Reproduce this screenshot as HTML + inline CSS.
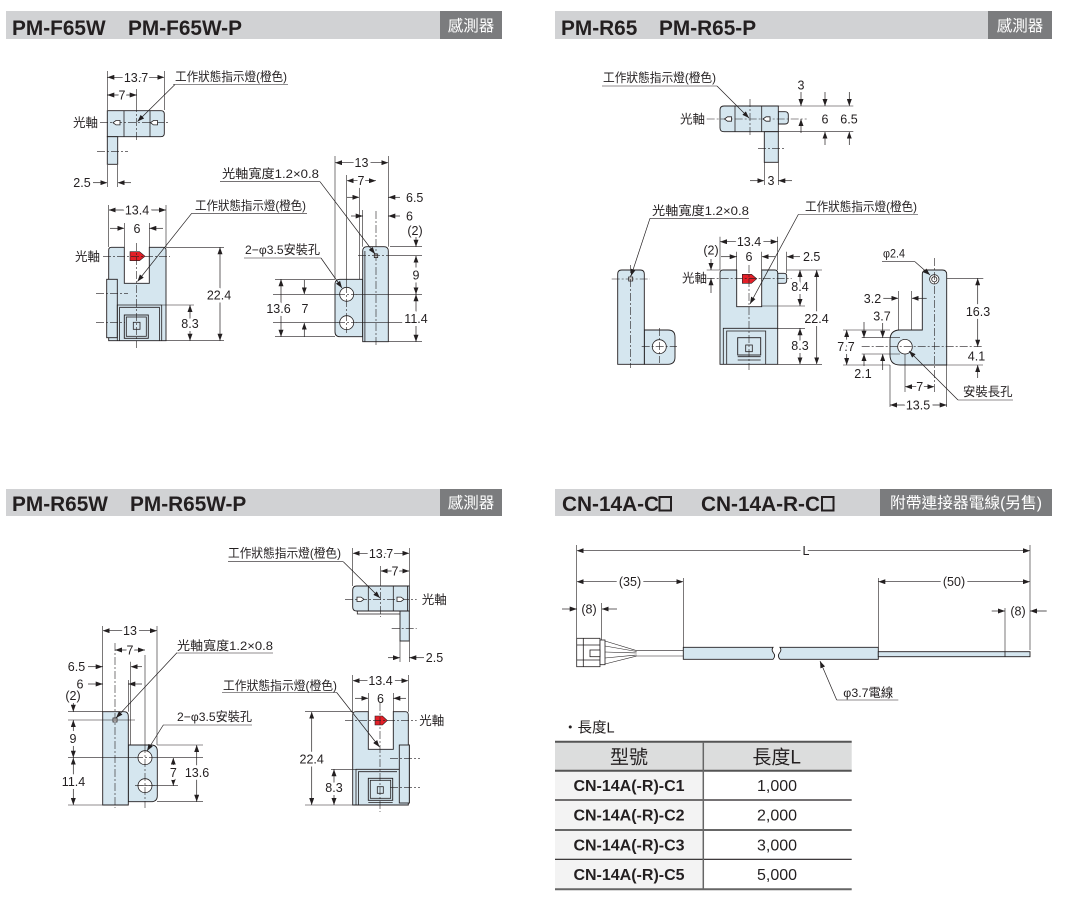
<!DOCTYPE html>
<html><head><meta charset="utf-8">
<style>
html,body{margin:0;padding:0;background:#fff;}
svg{display:block;}
text{font-family:"Liberation Sans","Noto Sans CJK TC",sans-serif;fill:#231f20;}
.n{font-size:12.5px;text-anchor:middle;}
.ns{font-size:12.5px;}
.h{stroke:#fff;stroke-width:6px;paint-order:stroke;stroke-linejoin:round;}
.j{font-size:12.3px;}
.k{font-size:12.5px;}
.T{font-size:20.8px;font-weight:bold;}
.g{font-size:15.5px;fill:#fff;text-anchor:middle;}
.o{fill:#d5e6ef;stroke:#231f20;stroke-width:0.9;}
.w{fill:#fff;stroke:#231f20;stroke-width:0.8;}
.f{fill:none;stroke:#231f20;stroke-width:0.8;}
.l{fill:none;stroke:#231f20;stroke-width:0.6;}
.c{fill:none;stroke:#231f20;stroke-width:0.6;stroke-dasharray:8 2 2 2;}
.d{fill:none;stroke:#231f20;stroke-width:0.7;marker-end:url(#a);}
.b{fill:none;stroke:#231f20;stroke-width:0.7;marker-end:url(#a);marker-start:url(#s);}
.r{fill:#e32028;stroke:#231f20;stroke-width:0.6;}
</style></head><body>
<svg width="1067" height="910" viewBox="0 0 1067 910" xmlns="http://www.w3.org/2000/svg">
<defs>
<marker id="a" viewBox="0 0 7 5" refX="7" refY="2.5" markerWidth="7" markerHeight="5" markerUnits="userSpaceOnUse" orient="auto"><path d="M0,0L7,2.5L0,5z" fill="#231f20"/></marker>
<marker id="s" viewBox="0 0 7 5" refX="7" refY="2.5" markerWidth="7" markerHeight="5" markerUnits="userSpaceOnUse" orient="auto-start-reverse"><path d="M0,0L7,2.5L0,5z" fill="#231f20"/></marker>
</defs>

<!-- ===== Headers ===== -->
<rect x="6" y="11" width="496" height="28" fill="#d1d2d4"/>
<rect x="440" y="11" width="62" height="28" fill="#7b7c7e"/>
<text class="T" x="12" y="35">PM-F65W</text>
<text class="T" x="128" y="35">PM-F65W-P</text>
<text class="g" x="471" y="31">感測器</text>

<rect x="555" y="11" width="497" height="28" fill="#d1d2d4"/>
<rect x="988" y="11" width="64" height="28" fill="#7b7c7e"/>
<text class="T" x="561" y="35">PM-R65</text>
<text class="T" x="659" y="35">PM-R65-P</text>
<text class="g" x="1020" y="31">感測器</text>

<rect x="6" y="489" width="496" height="27" fill="#d1d2d4"/>
<rect x="440" y="489" width="62" height="27" fill="#7b7c7e"/>
<text class="T" x="12" y="511">PM-R65W</text>
<text class="T" x="130" y="511">PM-R65W-P</text>
<text class="g" x="471" y="508">感測器</text>

<rect x="555" y="489" width="497" height="27" fill="#d1d2d4"/>
<rect x="880" y="489" width="172" height="27" fill="#7b7c7e"/>
<text class="T" x="562" y="511">CN-14A-C</text>
<rect x="659.5" y="497" width="11.5" height="13.5" fill="none" stroke="#231f20" stroke-width="2"/>
<text class="T" x="701" y="511">CN-14A-R-C</text>
<rect x="822" y="497" width="11.5" height="13.5" fill="none" stroke="#231f20" stroke-width="2"/>
<text class="g" x="966" y="508" textLength="152" lengthAdjust="spacingAndGlyphs">附帶連接器電線(另售)</text>

<!-- ===== TL top view ===== -->
<path class="o" d="M107.3,110.7H161Q164.3,110.7 164.3,114V133.4Q164.3,136.7 161,136.7H107.3Z"/>
<rect class="o" x="107.3" y="136.7" width="10.4" height="27.6"/>
<path class="f" d="M124,110.7V136.7M150,110.7V136.7"/>
<path class="c" d="M100,122.7H170M136.7,104V141M97,151.7H128"/>
<path class="w" d="M113,122.7l3,-2.2h4v4.4h-4z"/>
<path class="w" d="M150.5,122.7l3,-2.2h4v4.4h-4z"/>
<path class="l" d="M107.3,71V110M164.3,71V110M136.7,89V104"/>
<path class="b" d="M107.3,77.3H164.3"/>
<text class="n h" x="136" y="81.8">13.7</text>
<path class="b" d="M107.3,95H136.7"/>
<text class="n h" x="122" y="99.5">7</text>
<text class="j" x="175" y="81" textLength="112" lengthAdjust="spacingAndGlyphs">工作狀態指示燈(橙色)</text>
<path class="l" d="M173,84.5H288"/>
<path class="d" d="M175,84.5L137.5,121.5"/>
<text class="k" x="73" y="127">光軸</text>
<path class="l" d="M107.3,165V187M117.7,165V187"/>
<path class="d" d="M93,182.7H107.3"/>
<path class="d" d="M131,182.7H117.7"/>
<text class="n" x="82" y="187.2">2.5</text>

<!-- ===== TL front view ===== -->
<path class="o" d="M108.7,340.7V250Q108.7,247.3 111.4,247.3H124.3V283.3H149.3V247.3H163.3Q166,247.3 166,250V340.7Z"/>
<rect class="o" x="106.7" y="279.3" width="10.6" height="58.4"/>
<path class="f" d="M117.3,340.7V305H161.7V340.7M119.6,340.7V307.3H159.4V340.7"/>
<rect class="o" x="124.3" y="315" width="24" height="23.3"/>
<rect class="f" x="126.3" y="317" width="20" height="19.3"/>
<rect class="f" x="133.3" y="322.3" width="6.7" height="7"/>
<path class="r" d="M130,251.7H139.5L145,256.2L139.5,260.7H130Z"/>
<path class="c" d="M103,256.3H170M136.7,243V348M96,293.3H128M96,322.7H125"/>
<path class="l" d="M108.7,205V247M166,205V247M124.3,223V247M149.3,223V247M166,247.3H224M166,340.7H224M162,305H194"/>
<path class="b" d="M108.7,210H166"/>
<text class="n h" x="137" y="214.5">13.4</text>
<path class="d" d="M110,228.3H124.3"/>
<path class="d" d="M163,228.3H149.3"/>
<text class="n" x="137" y="232.8">6</text>
<path class="b" d="M220,247.3V340.7"/>
<text class="n h" x="219" y="299.5">22.4</text>
<path class="b" d="M190,305V340.7"/>
<text class="n h" x="190" y="327.8">8.3</text>
<text class="j" x="195" y="210" textLength="111" lengthAdjust="spacingAndGlyphs">工作狀態指示燈(橙色)</text>
<path class="l" d="M191.7,213.3H307"/>
<path class="d" d="M191.7,213.3L137.5,281.5"/>
<text class="k" x="75" y="261">光軸</text>

<!-- ===== TL side view ===== -->
<path class="o" d="M362.7,279.3H340Q335,279.3 335,284.3V331.7Q335,336.7 340,336.7H362.7Z"/>
<path class="o" d="M362.7,341.7V251Q362.7,246.7 367,246.7H384Q388.3,246.7 388.3,251V341.7Z"/>
<path class="f" d="M364.9,251V341.7"/>
<circle class="w" cx="346.7" cy="294.3" r="7"/>
<circle class="w" cx="346.7" cy="322.7" r="7"/>
<rect class="w" x="374.3" y="254" width="3.4" height="3.6"/>
<path class="c" d="M376,211V345M346.7,285V333M337,294.3H357M337,322.7H357M358,255.7H392"/>
<path class="l" d="M346.7,175V285M335,156V279M388.3,156V246.7M359.3,187V279M362.7,210V246.7M273,294.3H338M273,322.7H338M356,294.3H422M356,322.7H422M392,255.7H422M390,246.7H422M388.3,341.7H422M275,279.3H335M275,336.7H335"/>
<path class="b" d="M335,162.7H388.3"/>
<text class="n h" x="361.5" y="167.2">13</text>
<path class="b" d="M346.7,180.7H376"/>
<text class="n h" x="361" y="185.2">7</text>
<path class="d" d="M347,197.3H359.3"/>
<path class="d" d="M400,197.3H388.3"/>
<text class="ns" x="406" y="201.8">6.5</text>
<path class="d" d="M351,216H362.7"/>
<path class="d" d="M400,216H388.3"/>
<text class="ns" x="406" y="220.5">6</text>
<text class="n" x="415" y="235">(2)</text>
<path class="d" d="M416,237V246.7"/>
<path class="b" d="M416,255.7V294.3"/>
<text class="n h" x="416" y="279.5">9</text>
<path class="b" d="M416,294.3V341.7"/>
<text class="n h" x="416" y="322.8">11.4</text>
<path class="b" d="M281,279.3V336.7"/>
<text class="n h" x="278.5" y="312.8">13.6</text>
<path class="d" d="M304.3,280V294.3"/>
<path class="d" d="M304.3,337V322.7"/>
<text class="n" x="305" y="312.8">7</text>
<text class="j" x="222" y="178" textLength="97" lengthAdjust="spacingAndGlyphs">光軸寬度1.2×0.8</text>
<path class="l" d="M220,181.7H320"/>
<path class="d" d="M320,181.7L375,254"/>
<text class="j" x="245" y="254" textLength="75" lengthAdjust="spacingAndGlyphs">2−φ3.5安裝孔</text>
<path class="l" d="M244,258H321"/>
<path class="d" d="M321,258L342,288"/>

<!-- ===== TR top view ===== -->
<path class="o" d="M778.3,111.7H785Q788.3,111.7 788.3,115V120.7Q788.3,124 785,124H778.3Z"/>
<path class="o" d="M724,106H778.3V131.7H724Q720,131.7 720,127.7V110Q720,106 724,106Z"/>
<rect class="o" x="764.3" y="131.7" width="14" height="30.6"/>
<path class="f" d="M735,106V131.7M761.7,106V131.7"/>
<path class="c" d="M706.7,119H806.7M750,99V137M758,148.3H784"/>
<path class="w" d="M724.5,119l3,-2.2h4v4.4h-4z"/>
<path class="w" d="M763,119l3,-2.2h4v4.4h-4z"/>
<path class="l" d="M778.3,106H853.3M778.3,131.7H853.3M764.3,162V185M778.3,162V185"/>
<path class="d" d="M801,92V106"/>
<path class="d" d="M801,133V119"/>
<text class="n" x="801" y="89.5">3</text>
<path class="d" d="M825,92V106"/>
<path class="d" d="M825,145V131.7"/>
<text class="n" x="825" y="123.5">6</text>
<path class="d" d="M849.3,92V106"/>
<path class="d" d="M849.3,145V131.7"/>
<text class="n" x="849" y="123.5">6.5</text>
<path class="d" d="M750,180.7H764.3"/>
<path class="d" d="M792,180.7H778.3"/>
<text class="n" x="771" y="185.2">3</text>
<text class="j" x="603" y="82" textLength="113" lengthAdjust="spacingAndGlyphs">工作狀態指示燈(橙色)</text>
<path class="l" d="M602,86H717"/>
<path class="d" d="M717,86L749,118"/>
<text class="k" x="680" y="123.5">光軸</text>

<!-- ===== TR side view ===== -->
<path class="o" d="M644.3,330H668Q675,330 675,337V357.3Q675,364.3 668,364.3H644.3Z"/>
<path class="o" d="M617.7,364.3V274Q617.7,270 621.7,270H640.3Q644.3,270 644.3,274V364.3Z"/>
<circle class="w" cx="659.3" cy="346.7" r="7"/>
<rect class="w" x="628.7" y="277" width="4" height="4"/>
<path class="c" d="M630.7,265V368M611.7,279H650M641.7,346.7H677M659.3,328V363"/>
<text class="j" x="652" y="215" textLength="97" lengthAdjust="spacingAndGlyphs">光軸寬度1.2×0.8</text>
<path class="l" d="M650,218.3H749"/>
<path class="d" d="M650,218.3L631,276"/>

<!-- ===== TR front view ===== -->
<path class="o" d="M777.7,273.3H784Q786.7,273.3 786.7,276V280.6Q786.7,283.3 784,283.3H777.7Z"/>
<path class="o" d="M720,364.3V273Q720,270 723,270H736.7V306.7H761.7V270H774.7Q777.7,270 777.7,273V364.3Z"/>
<path class="f" d="M723.3,364.3V328.3H777.7M726.7,364.3V331H765.7V364.3"/>
<rect class="o" x="737.7" y="337.7" width="23" height="17.3"/>
<rect class="f" x="745.7" y="345" width="6.6" height="6.7"/>
<path class="f" d="M737.7,356.7H760.7M737.7,360H760.7"/>
<path class="r" d="M742.3,274.3H751.5L756.7,278.8L751.5,283.3H742.3Z"/>
<path class="c" d="M706.7,278.3H791.7M749,265V370"/>
<path class="l" d="M720,236.7V270M777.7,236.7V270M736.7,251.7V270M761.7,251.7V270M786.7,251.7V273M706.7,270H720M761.7,306H805M786.7,270H822M777.7,364.3H822M777.7,328.3H805"/>
<path class="b" d="M720,241.7H777.7"/>
<text class="n h" x="749" y="246.2">13.4</text>
<path class="d" d="M721,256.7H736.7"/>
<path class="d" d="M775,256.7H761.7"/>
<text class="n" x="749" y="261.2">6</text>
<path class="d" d="M800,256.7H786.7"/>
<text class="ns" x="803" y="261.2">2.5</text>
<text class="n" x="711" y="254.5">(2)</text>
<path class="d" d="M711,259V270"/>
<path class="d" d="M711,293V278.3"/>
<path class="b" d="M800,270V306"/>
<text class="n h" x="800" y="291.2">8.4</text>
<path class="b" d="M816.7,270V364.3"/>
<text class="n h" x="816.5" y="322.8">22.4</text>
<path class="b" d="M800,328.3V364.3"/>
<text class="n h" x="800" y="350.2">8.3</text>
<text class="j" x="805" y="211" textLength="112" lengthAdjust="spacingAndGlyphs">工作狀態指示燈(橙色)</text>
<path class="l" d="M798,214.5H918"/>
<path class="d" d="M798.3,214.5L750,304"/>
<text class="k" x="682" y="282.5">光軸</text>

<!-- ===== TR bracket ===== -->
<path class="o" d="M922.3,330V274.5Q922.3,270 926.8,270H942.2Q946.7,270 946.7,274.5V365H900Q890,365 890,355V340Q890,330 900,330Z"/>
<circle class="w" cx="934.3" cy="279.3" r="4.7"/>
<circle class="f" cx="934.3" cy="279.3" r="2.6"/>
<circle class="w" cx="905" cy="346.7" r="7.3"/>
<path class="c" d="M934.3,258V392M861.7,346.7H983"/>
<path class="l" d="M946.7,278.3H983.3M946.7,365H983M843,365H890M843,330H890M861.7,337.7H900M861.7,354H900M898.3,291V330M911.7,291V330M905,354V392M890,365V407M946.7,365V407"/>
<path class="b" d="M977.7,278.3V346.7"/>
<text class="n h" x="978" y="316.2">16.3</text>
<path class="d" d="M977.7,378V365"/>
<text class="n" x="976.5" y="360.5">4.1</text>
<path class="b" d="M846.7,330V365"/>
<text class="n h" x="846" y="351.2">7.7</text>
<path class="d" d="M882.7,323V337.7"/>
<path class="d" d="M882.7,370V354"/>
<text class="n" x="882" y="320.5">3.7</text>
<path class="d" d="M864,322V337.7"/>
<path class="d" d="M864,366V354"/>
<text class="n" x="863" y="378">2.1</text>
<path class="d" d="M883.3,298.3H898.3"/>
<path class="d" d="M926.7,298.3H911.7"/>
<text class="n" x="872.5" y="302.8">3.2</text>
<path class="b" d="M905,386.7H934.3"/>
<text class="n h" x="919.7" y="391.2">7</text>
<path class="b" d="M890,405H946.7"/>
<text class="n h" x="918" y="409.5">13.5</text>
<text class="j" x="883" y="257.5" textLength="22" lengthAdjust="spacingAndGlyphs">φ2.4</text>
<path class="l" d="M882,261.7H915"/>
<path class="d" d="M915,261.7L930,275"/>
<text class="j" x="963" y="396" textLength="49.5" lengthAdjust="spacingAndGlyphs">安裝長孔</text>
<path class="l" d="M958,400H1013"/>
<path class="d" d="M958,400L909,351"/>

<!-- ===== BL side view ===== -->
<path class="o" d="M128.3,745H151Q157.3,745 157.3,751V795.7Q157.3,801.7 151,801.7H128.3Z"/>
<path class="o" d="M102.7,805V711.7H124Q128.3,711.7 128.3,716V805Z"/>
<circle class="w" cx="145" cy="757.7" r="7"/>
<circle class="w" cx="145" cy="785.7" r="7"/>
<rect class="w" x="113" y="718" width="4" height="4"/>
<path class="c" d="M115,643V808M145,745V808M135,757.7H155M135,785.7H155"/>
<path class="l" d="M145,655V745M102.7,626V711.7M157,626V745M130.7,661.7V745M128.3,680V711.7M68,711.7H102.7M68,720H135M68,757.7H136M155,757.7H203M137,785.7H178M68,805H102.7M157,745H203M157,801.7H203"/>
<path class="b" d="M102.7,630.7H157"/>
<text class="n h" x="130" y="635.2">13</text>
<path class="b" d="M115,650H145"/>
<text class="n h" x="130" y="654.5">7</text>
<path class="d" d="M88,666.7H102.7"/>
<path class="d" d="M142,666.7H130.7"/>
<text class="n" x="76.5" y="671.2">6.5</text>
<path class="d" d="M88,684H102.7"/>
<path class="d" d="M142,684H128.3"/>
<text class="n" x="80" y="688.5">6</text>
<text class="n" x="73" y="700">(2)</text>
<path class="d" d="M73.3,703V711.7"/>
<path class="b" d="M73.3,720V757.7"/>
<text class="n h" x="73" y="742.8">9</text>
<path class="b" d="M73.3,757.7V805"/>
<text class="n h" x="73.5" y="786.2">11.4</text>
<path class="b" d="M196.7,745V801.7"/>
<text class="n h" x="197" y="777.2">13.6</text>
<path class="b" d="M173.3,757.7V785.7"/>
<text class="n h" x="173.3" y="777.2">7</text>
<text class="j" x="177" y="650" textLength="96" lengthAdjust="spacingAndGlyphs">光軸寬度1.2×0.8</text>
<path class="l" d="M176,653H273"/>
<path class="d" d="M176.7,653L116,718"/>
<text class="j" x="177" y="721" textLength="75" lengthAdjust="spacingAndGlyphs">2−φ3.5安裝孔</text>
<path class="l" d="M163,725H252"/>
<path class="d" d="M163.3,725L147,751"/>

<!-- ===== BL top view ===== -->
<rect class="o" x="400" y="611" width="9.3" height="30"/>
<path class="o" d="M356.7,586H409.3V611H356.7Q352.7,611 352.7,607V590Q352.7,586 356.7,586Z"/>
<path class="f" d="M368.3,586V611M393.3,586V611M407.6,586V611M357.3,611V614H400"/>
<path class="c" d="M345,599.3H416.7M380.7,578V617M391.7,628.3H416.7"/>
<path class="w" d="M364,599.3l-3,-2.2h-4v4.4h4z"/>
<path class="w" d="M404,599.3l-3,-2.2h-4v4.4h4z"/>
<path class="l" d="M352.7,548V586M409.3,548V586M380.7,566V578M400,641V662M409.3,641V662"/>
<path class="b" d="M352.7,553.3H409.3"/>
<text class="n h" x="381" y="557.8">13.7</text>
<path class="b" d="M380.7,571H409.3"/>
<text class="n h" x="395" y="575.5">7</text>
<path class="d" d="M388,657.7H400"/>
<path class="d" d="M424,657.7H409.3"/>
<text class="n" x="434.5" y="662.2">2.5</text>
<text class="j" x="228" y="557.5" textLength="113" lengthAdjust="spacingAndGlyphs">工作狀態指示燈(橙色)</text>
<path class="l" d="M228,561.7H343.3"/>
<path class="d" d="M343.3,561.7L380,598"/>
<text class="k" x="421.7" y="604">光軸</text>

<!-- ===== BL front view ===== -->
<rect class="o" x="399.3" y="745" width="10" height="58"/>
<path class="o" d="M352.7,805V714.7Q352.7,711.7 355.7,711.7H368.3V749.3H393.3V711.7H405.3Q408.3,711.7 408.3,714.7V805Z"/>
<rect class="o" x="399.3" y="745" width="10" height="58"/>
<path class="f" d="M356,805V769.3H399.3M358.5,805V771.7H397"/>
<rect class="o" x="368.3" y="778.3" width="24.4" height="22"/>
<rect class="f" x="370.3" y="780.3" width="20.4" height="18"/>
<rect class="f" x="377.3" y="786.7" width="6" height="6.6"/>
<path class="f" d="M368.3,802.5H392.7"/>
<path class="r" d="M375,716H382.5L387.3,720.5L382.5,725H375Z"/>
<path class="c" d="M345,720.7H416.7M380,703V812M390,758.3H420M390,787.7H420"/>
<path class="l" d="M352.7,675V711.7M408.3,675V711.7M368.3,693V711.7M393.3,693V711.7M305,711.7H352.7M305,805H352.7M331,769.3H356"/>
<path class="b" d="M352.7,680.7H408.3"/>
<text class="n h" x="380.5" y="685.2">13.4</text>
<path class="d" d="M355,698.3H368.3"/>
<path class="d" d="M406,698.3H393.3"/>
<text class="n" x="380.5" y="702.8">6</text>
<path class="b" d="M311.7,711.7V805"/>
<text class="n h" x="311.7" y="763.5">22.4</text>
<path class="b" d="M334,769.3V805"/>
<text class="n h" x="334" y="792.2">8.3</text>
<text class="j" x="223" y="690" textLength="114" lengthAdjust="spacingAndGlyphs">工作狀態指示燈(橙色)</text>
<path class="l" d="M222,692.5H337"/>
<path class="d" d="M336.7,692.5L379.5,747"/>
<text class="k" x="419.3" y="725">光軸</text>

<!-- ===== BR cable ===== -->
<path class="l" d="M576.7,545V638M1030,545V650M683.3,578V647M878.3,578V647M601.7,603V640M1005,608V652"/>
<path class="b" d="M576.7,550.7H1030"/>
<text class="n h" x="806" y="555.2">L</text>
<path class="b" d="M576.7,581.7H683.3"/>
<text class="n h" x="630" y="586.2">(35)</text>
<path class="b" d="M878.3,581.7H1030"/>
<text class="n h" x="954" y="586.2">(50)</text>
<path class="d" d="M562,609H576.7"/>
<path class="d" d="M617,609H601.7"/>
<text class="n" x="589" y="613.5">(8)</text>
<path class="d" d="M991.7,611H1005"/>
<path class="d" d="M1046.7,611H1030"/>
<text class="n" x="1018" y="615.5">(8)</text>
<rect class="w" x="576.7" y="638.3" width="23.3" height="28.4"/>
<rect class="w" x="600" y="640" width="5" height="24.7"/>
<path class="f" d="M576.7,645H600M576.7,660H600M583.3,638.3V666.7"/>
<rect class="w" x="590" y="650" width="10" height="6.7"/>
<path class="l" d="M605,641L636.7,650.7M605,646L636.7,651.5M605,652L636.7,653M605,658L636.7,655M605,664L636.7,656M636.7,650.7H683.3M636.7,656H683.3"/>
<path class="o" d="M683.3,647.3H773Q771,650 773.5,653Q776,656 773,659.3H683.3Z"/>
<path class="o" d="M780,647.3H878.3V659.3H780Q777,656 779.5,653Q782,650 780,647.3Z"/>
<rect class="o" x="878.3" y="651.7" width="151.7" height="5"/>
<path class="f" d="M1005,651.7V656.7"/>
<text class="j" x="843.3" y="697" textLength="50" lengthAdjust="spacingAndGlyphs">φ3.7電線</text>
<path class="l" d="M836.7,700H898.3"/>
<path class="d" d="M836.7,700L820,661"/>

<!-- ===== Table ===== -->
<text x="563" y="732.3" font-size="14.5">・長度L</text>
<rect x="555" y="741.7" width="296.7" height="29" fill="#dcdddd"/>
<rect x="555" y="770.7" width="148.3" height="118.6" fill="#f3f3f3"/>
<path d="M555,741.7H851.7M555,770.7H851.7" stroke="#555" stroke-width="2"/>
<path d="M555,800H851.7M555,859.3H851.7" stroke="#231f20" stroke-width="1.2"/>
<path d="M555,830H851.7M555,889.3H851.7" stroke="#666" stroke-width="2"/>
<path d="M703.3,741.7V889.3" stroke="#666" stroke-width="1.5"/>
<text x="629" y="763.5" font-size="19" text-anchor="middle">型號</text>
<text x="776.7" y="763.5" font-size="19" text-anchor="middle">長度L</text>
<text x="629" y="791" font-size="16" font-weight="bold" text-anchor="middle">CN-14A(-R)-C1</text>
<text x="629" y="820.7" font-size="16" font-weight="bold" text-anchor="middle">CN-14A(-R)-C2</text>
<text x="629" y="850.3" font-size="16" font-weight="bold" text-anchor="middle">CN-14A(-R)-C3</text>
<text x="629" y="880" font-size="16" font-weight="bold" text-anchor="middle">CN-14A(-R)-C5</text>
<text x="777" y="791" font-size="16" text-anchor="middle">1,000</text>
<text x="777" y="820.7" font-size="16" text-anchor="middle">2,000</text>
<text x="777" y="850.3" font-size="16" text-anchor="middle">3,000</text>
<text x="777" y="880" font-size="16" text-anchor="middle">5,000</text>
</svg>
</body></html>
